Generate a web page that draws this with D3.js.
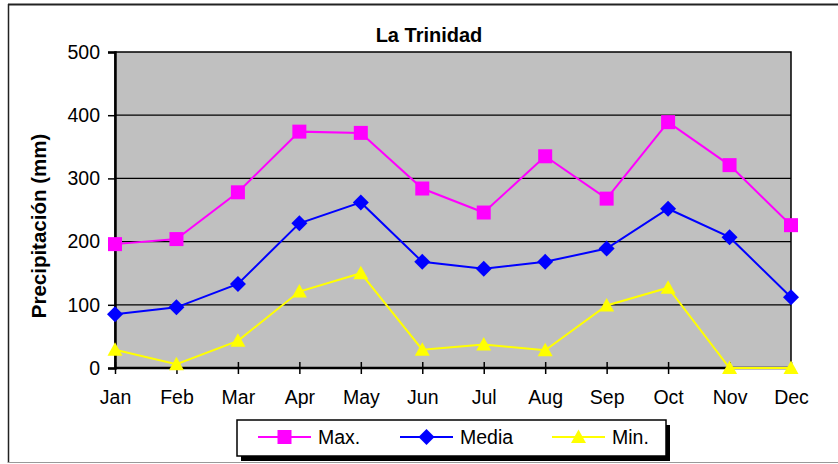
<!DOCTYPE html>
<html>
<head>
<meta charset="utf-8">
<script src="https://cdn.jsdelivr.net/npm/d3@7"></script>
<style>
  body { margin: 0; background: #fff; }
  svg { display: block; font-family: "Liberation Sans", Arial, sans-serif; }
</style>
</head>
<body>
<script>
var months = ['Jan', 'Feb', 'Mar', 'Apr', 'May', 'Jun', 'Jul', 'Aug', 'Sep', 'Oct', 'Nov', 'Dec'];
var maxVals = [196, 204, 278, 374, 372, 284, 246, 335, 268, 389, 321, 226];
var mediaVals = [85, 96, 133, 229, 262, 168, 157, 168, 189, 252, 207, 112];
var minVals = [29, 6, 43, 121, 150, 29, 37, 28, 99, 127, 0, 0];
var yTicks = [0, 100, 200, 300, 400, 500];
var seriesNames = ['Max.', 'Media', 'Min.'];

var width = 838, height = 464;
var svg = d3.select('body').append('svg')
  .attr('width', width)
  .attr('height', height);

// outer chart frame
svg.append('line').attr('x1', 8.5).attr('y1', 4).attr('x2', 8.5).attr('y2', 463).attr('stroke', '#222').attr('stroke-width', 1.5);
svg.append('line').attr('x1', 8).attr('y1', 4.5).attr('x2', 838).attr('y2', 4.5).attr('stroke', '#222').attr('stroke-width', 2);
svg.append('line').attr('x1', 8).attr('y1', 462.5).attr('x2', 838).attr('y2', 462.5).attr('stroke', '#999').attr('stroke-width', 1);

var x = d3.scalePoint().domain(months).range([115, 791]);
var y = d3.scaleLinear().domain([0, 500]).range([368, 52]);

// plot area
svg.append('rect')
  .attr('x', 115).attr('y', y(500))
  .attr('width', 791 - 115).attr('height', y(0) - y(500))
  .attr('fill', '#c0c0c0')
  .attr('stroke', '#000').attr('stroke-width', 1.5);

// gridlines
svg.selectAll('.grid')
  .data(yTicks.slice(1, 5))
  .enter().append('line')
  .attr('x1', 115).attr('x2', 791)
  .attr('y1', function (d) { return y(d); })
  .attr('y2', function (d) { return y(d); })
  .attr('stroke', '#000').attr('stroke-width', 1.2);

// y axis
var yAxis = svg.append('g')
  .attr('transform', 'translate(115,0)')
  .call(d3.axisLeft(y).tickValues(yTicks).tickSize(7).tickPadding(8));
yAxis.select('.domain').attr('stroke', '#000').attr('stroke-width', 2.5);
yAxis.selectAll('line').attr('stroke', '#000').attr('stroke-width', 1.5);
yAxis.selectAll('text').attr('font-size', 19.5).attr('fill', '#000')
  .attr('font-family', '"Liberation Sans", Arial, sans-serif');

// x axis
var xAxis = svg.append('g')
  .attr('transform', 'translate(0,' + y(0) + ')')
  .call(d3.axisBottom(x).tickSize(6).tickPadding(16));
xAxis.select('.domain').attr('stroke', '#000').attr('stroke-width', 2.5).attr('d', 'M115,0H791');
xAxis.selectAll('line').attr('stroke', '#000').attr('stroke-width', 1.5).attr('y1', -6);
xAxis.selectAll('text').attr('font-size', 19.5).attr('fill', '#000')
  .attr('font-family', '"Liberation Sans", Arial, sans-serif');

// title
svg.append('text')
  .attr('x', 429).attr('y', 42)
  .attr('text-anchor', 'middle')
  .attr('font-size', 20).attr('font-weight', 'bold')
  .text('La Trinidad');

// y label
svg.append('text')
  .attr('transform', 'translate(46,226) rotate(-90)')
  .attr('text-anchor', 'middle')
  .attr('font-size', 20.5).attr('font-weight', 'bold')
  .text('Precipitación (mm)');

// marker shapes
var squareMark = 'M-7,-7H7V7H-7Z';
var diamondMark = 'M0,-8L8,0L0,8L-8,0Z';
var triangleMark = 'M0,-7.5L7.5,6L-7.5,6Z';

var series = [
  { name: seriesNames[0], values: maxVals, color: '#ff00ff', shape: squareMark },
  { name: seriesNames[1], values: mediaVals, color: '#0000ff', shape: diamondMark },
  { name: seriesNames[2], values: minVals, color: '#ffff00', shape: triangleMark }
];

var line = d3.line()
  .x(function (d, i) { return x(months[i]); })
  .y(function (d) { return y(d); });

series.forEach(function (s) {
  svg.append('path')
    .attr('d', line(s.values))
    .attr('fill', 'none')
    .attr('stroke', s.color)
    .attr('stroke-width', 2);
});

series.forEach(function (s) {
  svg.selectAll(null)
    .data(s.values)
    .enter().append('path')
    .attr('d', s.shape)
    .attr('transform', function (d, i) { return 'translate(' + x(months[i]) + ',' + y(d) + ')'; })
    .attr('fill', s.color);
});

// legend
var lg = svg.append('g');
lg.append('rect').attr('x', 241).attr('y', 425).attr('width', 429).attr('height', 36).attr('fill', '#000');
lg.append('rect').attr('x', 237).attr('y', 420).attr('width', 429).attr('height', 36)
  .attr('fill', '#fff').attr('stroke', '#000').attr('stroke-width', 1.5);

var legendX = [258, 400, 552];
series.forEach(function (s, i) {
  var lx = legendX[i];
  lg.append('line')
    .attr('x1', lx).attr('x2', lx + 53)
    .attr('y1', 437).attr('y2', 437)
    .attr('stroke', s.color).attr('stroke-width', 2);
  lg.append('path')
    .attr('d', s.shape)
    .attr('transform', 'translate(' + (lx + 26.5) + ',437)')
    .attr('fill', s.color);
  lg.append('text')
    .attr('x', lx + 60).attr('y', 444)
    .attr('font-size', 19.5)
    .text(s.name);
});
</script>
</body>
</html>
